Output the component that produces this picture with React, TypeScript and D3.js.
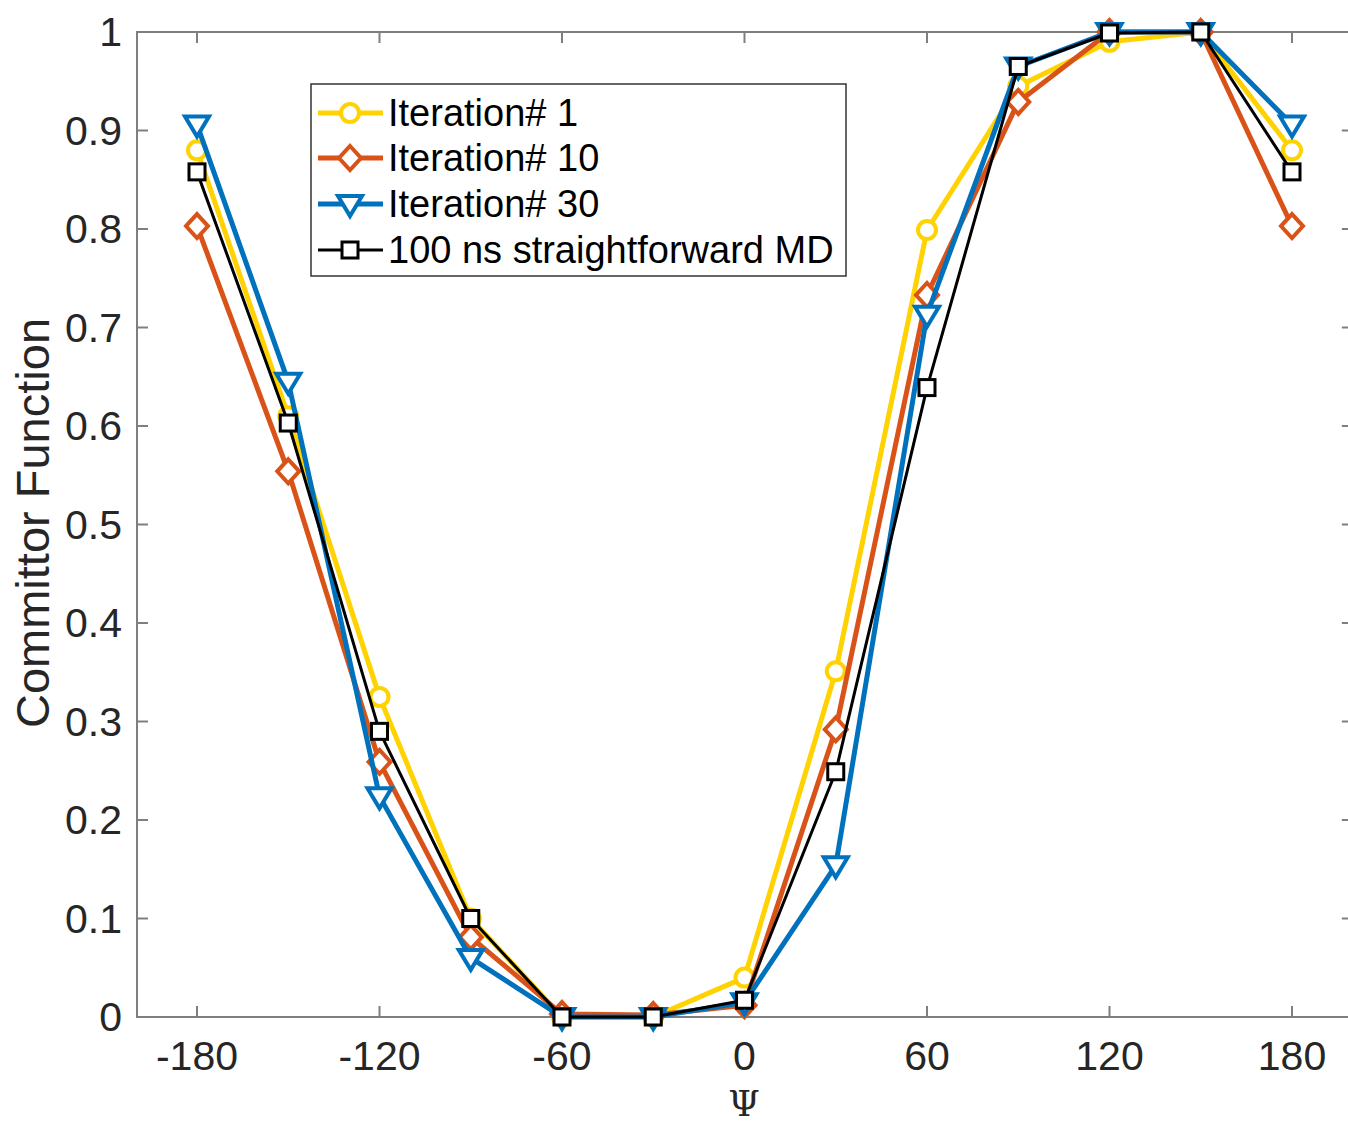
import React from "react";
import * as d3 from "d3";

const psi = [-180, -150, -120, -90, -60, -30, 0, 30, 60, 90, 120, 150, 180];
const iter1 = [0.88, 0.61, 0.325, 0.1, 0.0, 0.0, 0.04, 0.351, 0.799, 0.945, 0.99, 1.0, 0.88];
const iter10 = [0.803, 0.554, 0.259, 0.081, 0.003, 0.002, 0.012, 0.292, 0.733, 0.929, 1.0, 1.0, 0.803];
const iter30 = [0.906, 0.645, 0.224, 0.06, 0.0, 0.0, 0.015, 0.154, 0.713, 0.965, 1.0, 1.0, 0.906];
const md100 = [0.858, 0.603, 0.29, 0.1, 0.0, 0.0, 0.017, 0.249, 0.639, 0.965, 0.999, 1.0, 0.858];
const xTicks = [-180, -120, -60, 0, 60, 120, 180];
const yTicks = [0, 0.1, 0.2, 0.3, 0.4, 0.5, 0.6, 0.7, 0.8, 0.9, 1];
const seriesNames = ["Iteration# 1", "Iteration# 10", "Iteration# 30", "100 ns straightforward MD"];

const W = 1348, H = 1127;
const L = 137, T = 32, B = 1017;
const x = d3.scaleLinear().domain([-180, 180]).range([197, 1292]);
const y = d3.scaleLinear().domain([0, 1]).range([B, T]);
const R = x(200);

type S = { name: string; vals: number[]; color: string; width: number; marker: string };
const series: S[] = [
  { name: seriesNames[0], vals: iter1, color: "#FFD200", width: 5, marker: "circle" },
  { name: seriesNames[1], vals: iter10, color: "#D95319", width: 5, marker: "diamond" },
  { name: seriesNames[2], vals: iter30, color: "#0072BD", width: 5, marker: "tri" },
  { name: seriesNames[3], vals: md100, color: "#000000", width: 3, marker: "square" },
];

function Marker({ kind, cx, cy, color, sw }: { kind: string; cx: number; cy: number; color: string; sw: number }) {
  if (kind === "circle") return <circle cx={cx} cy={cy} r={9} fill="white" stroke={color} strokeWidth={sw} />;
  if (kind === "diamond")
    return <path d={`M${cx},${cy - 12}L${cx + 11},${cy}L${cx},${cy + 12}L${cx - 11},${cy}Z`} fill="white" stroke={color} strokeWidth={sw} />;
  if (kind === "tri")
    return <path d={`M${cx - 12},${cy - 8}L${cx + 12},${cy - 8}L${cx},${cy + 12}Z`} fill="white" stroke={color} strokeWidth={sw} />;
  return <rect x={cx - 8} y={cy - 8} width={16} height={16} fill="white" stroke={color} strokeWidth={sw} />;
}

export default function App() {
  const line = d3.line<number>().x((_, i) => x(psi[i])).y((d) => y(d));
  const font = "Helvetica, Arial, 'Liberation Sans', sans-serif";
  const legY = [113, 158, 204, 250];
  return (
    <svg width={W} height={H} style={{ position: "absolute", left: 0, top: 0 }} fontFamily={font}>
      <rect x={0} y={0} width={W} height={H} fill="white" />
      {/* axes box */}
      <path d={`M${L},${B}V${T}H${R}V${B}Z`} fill="none" stroke="#7f7f7f" strokeWidth={2} />
      {xTicks.map((t) => (
        <g key={t}>
          <line x1={x(t)} x2={x(t)} y1={B} y2={B - 11} stroke="#7f7f7f" strokeWidth={2} />
          <line x1={x(t)} x2={x(t)} y1={T} y2={T + 11} stroke="#7f7f7f" strokeWidth={2} />
          <text x={x(t)} y={1070} textAnchor="middle" fontSize={41} fill="#262626">{t}</text>
        </g>
      ))}
      {yTicks.map((t) => (
        <g key={t}>
          <line x1={L} x2={L + 11} y1={y(t)} y2={y(t)} stroke="#7f7f7f" strokeWidth={2} />
          <line x1={R} x2={R - 11} y1={y(t)} y2={y(t)} stroke="#7f7f7f" strokeWidth={2} />
          <text x={122} y={y(t) + 14} textAnchor="end" fontSize={41} fill="#262626">{t === 0 || t === 1 ? String(t) : t.toFixed(1)}</text>
        </g>
      ))}
      <text x={744} y={1116} textAnchor="middle" fontSize={36} fontFamily="'DejaVu Serif', 'Liberation Serif', serif" fill="#262626">Ψ</text>
      <text transform="translate(49,523) rotate(-90)" textAnchor="middle" fontSize={47} fill="#262626">Committor Function</text>
      {series.map((s) => (
        <g key={s.name}>
          <path d={line(s.vals) || ""} fill="none" stroke={s.color} strokeWidth={s.width} strokeLinejoin="round" />
          {s.vals.map((v, i) => (
            <Marker key={i} kind={s.marker} cx={x(psi[i])} cy={y(v)} color={s.color} sw={s.width === 5 ? 4 : 3} />
          ))}
        </g>
      ))}
      {/* legend */}
      <rect x={311} y={84} width={535} height={192} fill="white" stroke="#333" strokeWidth={1.5} />
      {series.map((s, i) => (
        <g key={s.name}>
          <line x1={318} x2={383} y1={legY[i]} y2={legY[i]} stroke={s.color} strokeWidth={s.width} />
          <Marker kind={s.marker} cx={350} cy={legY[i]} color={s.color} sw={s.width === 5 ? 4 : 3} />
          <text x={388} y={legY[i] + 13} fontSize={38} fill="#000">{s.name}</text>
        </g>
      ))}
    </svg>
  );
}
